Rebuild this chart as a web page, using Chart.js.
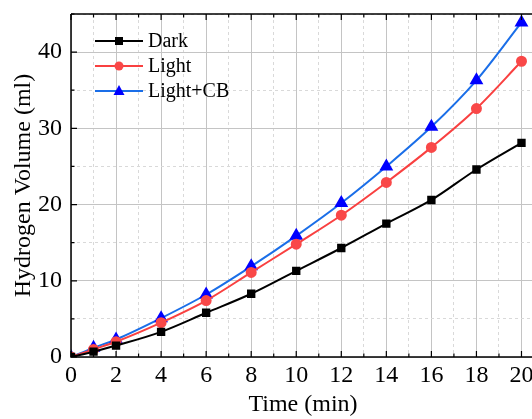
<!DOCTYPE html>
<html>
<head>
<meta charset="utf-8">
<script src="https://cdn.jsdelivr.net/npm/chart.js@4.4.0/dist/chart.umd.min.js"></script>
<style>
  html, body { margin: 0; padding: 0; background: #fff; overflow: hidden; }
  #wrap { width: 546px; height: 419px; }
</style>
</head>
<body>
<div id="wrap"><canvas id="line-chart"></canvas></div>
<script>
// values
const times = [0, 1, 2, 4, 6, 8, 10, 12, 14, 16, 18, 20];
const dark = [0, 0.7, 1.5, 3.3, 5.8, 8.3, 11.3, 14.3, 17.5, 20.6, 24.6, 28.1];
const light = [0, 1.0, 2.0, 4.5, 7.4, 11.1, 14.8, 18.6, 22.9, 27.5, 32.6, 38.8];
const lightCB = [0, 1.2, 2.3, 5.1, 8.2, 11.9, 15.9, 20.2, 25.0, 30.2, 36.3, 43.9];
const seriesNames = ["Dark", "Light", "Light+CB"];
const xTicks = [0, 2, 4, 6, 8, 10, 12, 14, 16, 18, 20];
const yTicks = [0, 10, 20, 30, 40];

const serif = "'Liberation Serif', 'Times New Roman', serif";

function pts(vals) {
  return vals.map((v, i) => ({ x: times[i], y: v }));
}

// inward ticks, axis lines, top frame and the legend box inside the plot
const framePlugin = {
  id: 'frame',
  afterDraw(chart) {
    const ctx = chart.ctx;
    const a = chart.chartArea;
    const xs = chart.scales.x, ys = chart.scales.y;
    ctx.save();
    ctx.strokeStyle = '#000';
    ctx.lineWidth = 1.5;
    ctx.beginPath();
    ctx.moveTo(a.left, a.top); ctx.lineTo(a.left, a.bottom); ctx.lineTo(a.right + 5, a.bottom);
    ctx.moveTo(a.left, a.top); ctx.lineTo(a.right + 5, a.top);
    ctx.stroke();
    ctx.lineWidth = 1.2;
    ctx.beginPath();
    for (let v = 0; v <= 20; v++) {
      const px = xs.getPixelForValue(v);
      const len = v % 2 === 0 ? 6 : 3.5;
      ctx.moveTo(px, a.bottom); ctx.lineTo(px, a.bottom - len);
      ctx.moveTo(px, a.top); ctx.lineTo(px, a.top + len);
    }
    for (let v = 0; v <= 45; v += 5) {
      const py = ys.getPixelForValue(v);
      const len = v % 10 === 0 ? 6 : 3.5;
      ctx.moveTo(a.left, py); ctx.lineTo(a.left + len, py);
    }
    ctx.stroke();

    // legend
    const x0 = 95, x1 = 143, tx = 148;
    chart.data.datasets.forEach((ds, i) => {
      const y = 41 + i * 25;
      ctx.strokeStyle = ds.borderColor;
      ctx.lineWidth = 2.2;
      ctx.beginPath(); ctx.moveTo(x0, y); ctx.lineTo(x1, y); ctx.stroke();
      const cx = (x0 + x1) / 2;
      ctx.fillStyle = ds.pointBackgroundColor;
      ctx.beginPath();
      if (ds.pointStyle === 'rect') {
        ctx.rect(cx - 4, y - 4, 8, 8);
      } else if (ds.pointStyle === 'circle') {
        ctx.arc(cx, y, 4.5, 0, Math.PI * 2);
      } else {
        ctx.moveTo(cx, y - 6); ctx.lineTo(cx + 5.5, y + 4); ctx.lineTo(cx - 5.5, y + 4); ctx.closePath();
      }
      ctx.fill();
      ctx.fillStyle = '#000';
      ctx.font = '20px ' + serif;
      ctx.textBaseline = 'middle';
      ctx.fillText(ds.label, tx, y + 1);
    });
    ctx.restore();
  }
};

new Chart(document.getElementById("line-chart"), {
  type: 'line',
  data: {
    datasets: [
      {
        label: seriesNames[0],
        data: pts(dark),
        borderColor: '#000000',
        backgroundColor: '#000000',
        pointBackgroundColor: '#000000',
        pointBorderColor: '#000000',
        pointStyle: 'rect',
        pointRadius: 4.5,
        borderWidth: 2
      },
      {
        label: seriesNames[1],
        data: pts(light),
        borderColor: '#f94040',
        backgroundColor: '#f94040',
        pointBackgroundColor: '#f94848',
        pointBorderColor: '#f94848',
        pointStyle: 'circle',
        pointRadius: 4.5,
        borderWidth: 2
      },
      {
        label: seriesNames[2],
        data: pts(lightCB),
        borderColor: '#1a6ee8',
        backgroundColor: '#1a6ee8',
        pointBackgroundColor: '#0000ff',
        pointBorderColor: '#0000ff',
        pointStyle: 'triangle',
        pointRadius: 6,
        borderWidth: 2
      }
    ]
  },
  options: {
    responsive: true,
    maintainAspectRatio: false,
    animation: false,
    layout: { padding: { top: 14, right: 11, left: 0, bottom: 0 } },
    elements: { line: { cubicInterpolationMode: 'monotone' } },
    plugins: {
      legend: { display: false },
      tooltip: { enabled: false }
    },
    scales: {
      x: {
        type: 'linear',
        min: 0,
        max: 20.6,
        afterFit: s => { s.height = 62; s.paddingLeft = 0; s.paddingRight = 0; },
        border: { display: false, dash: c => (c.tick && c.tick.value % 2 !== 0 ? [3, 3] : []) },
        grid: {
          drawTicks: false,
          color: c => (c.tick && c.tick.value % 2 !== 0 ? '#d9d9d9' : '#c4c4c4'),
          lineWidth: 1
        },
        ticks: {
          stepSize: 1,
          includeBounds: false,
          autoSkip: false,
          maxRotation: 0,
          padding: 4,
          color: '#000',
          font: { family: serif, size: 24 },
          callback: v => (xTicks.includes(v) ? String(v) : '')
        },
        title: {
          display: true,
          text: 'Time (min)',
          color: '#000',
          font: { family: serif, size: 24 },
          padding: { top: 0, bottom: 0 }
        }
      },
      y: {
        min: 0,
        max: 45,
        afterFit: s => { s.width = 71; s.paddingTop = 0; s.paddingBottom = 0; },
        border: { display: false, dash: c => (c.tick && c.tick.value % 10 !== 0 ? [3, 3] : []) },
        grid: {
          drawTicks: false,
          color: c => (c.tick && c.tick.value % 10 !== 0 ? '#d9d9d9' : '#c4c4c4'),
          lineWidth: 1
        },
        ticks: {
          stepSize: 5,
          autoSkip: false,
          padding: 9,
          color: '#000',
          font: { family: serif, size: 24 },
          callback: v => (yTicks.includes(v) ? String(v) : '')
        },
        title: {
          display: true,
          text: 'Hydrogen Volume (ml)',
          color: '#000',
          font: { family: serif, size: 24 },
          padding: { top: 9, bottom: 0 }
        }
      }
    }
  },
  plugins: [framePlugin]
});
</script>
</body>
</html>
